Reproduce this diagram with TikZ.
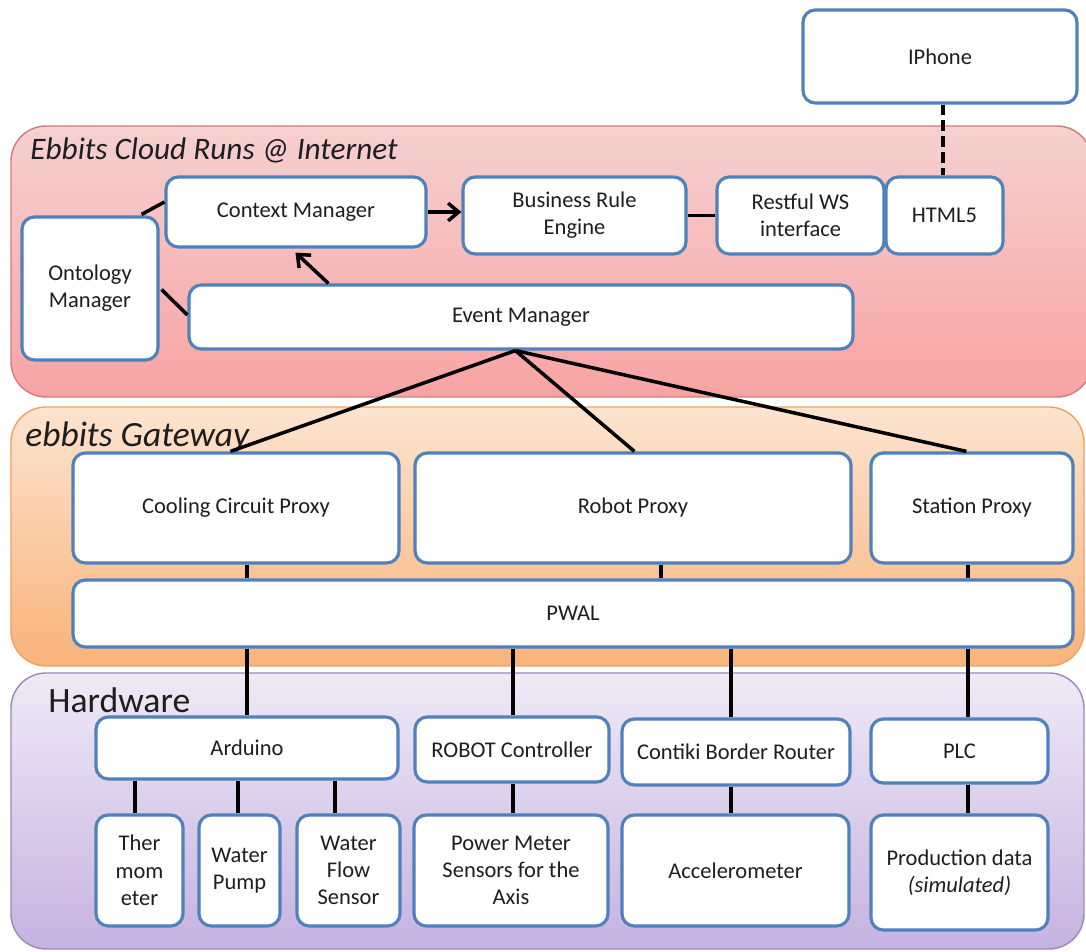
\documentclass[tikz,border=0pt]{standalone}
\usepackage{fontspec}
\setmainfont{Carlito}
\usetikzlibrary{arrows.meta,calc}
\definecolor{bxborder}{HTML}{4F81BD}
\definecolor{txt}{HTML}{1E1E1E}
\definecolor{cloudtop}{HTML}{F6D0D0}
\definecolor{cloudbot}{HTML}{F8A3A3}
\definecolor{cloudline}{HTML}{D27C7A}
\definecolor{gwtop}{HTML}{FCE4D0}
\definecolor{gwbot}{HTML}{F9B37A}
\definecolor{gwline}{HTML}{F0A060}
\definecolor{hwtop}{HTML}{EFEAF6}
\definecolor{hwbot}{HTML}{C6B2E0}
\definecolor{hwline}{HTML}{9A88B6}
\tikzset{
  box/.style={draw=bxborder, line width=1.8pt, fill=white, rounded corners=7pt,
    inner sep=0pt, align=center, text=txt, font=\fontsize{12.8}{15.5}\selectfont},
  conn/.style={line width=2pt, black},
  arr/.style={conn, -{Straight Barb[length=6pt,width=10pt,line width=2pt]}},
  region/.style={line width=0.8pt, rounded corners=20pt},
  rlabel/.style={anchor=west, inner sep=0pt, text=txt}
}
\newcommand{\bx}[6]{\node[box, minimum width={(#4-#2)*0.02cm}, minimum height={(#5-#3)*0.02cm}] (#1) at ({(#2+#4)/2},{(#3+#5)/2}) {#6};}
\begin{document}
\begin{tikzpicture}[x=0.02cm,y=-0.02cm]
\useasboundingbox (0,0) rectangle (1086,952);
% regions
\shade[region, draw=cloudline, top color=cloudtop, bottom color=cloudbot] (11,126) rectangle (1092,397);
\shade[region, draw=gwline, top color=gwtop, bottom color=gwbot] (11,407) rectangle (1084,666);
\shade[region, draw=hwline, top color=hwtop, bottom color=hwbot] (11,673) rectangle (1084,949);
\node[rlabel, font=\fontsize{17.8}{20}\selectfont\itshape] (lcloud) at (30,150) {Ebbits Cloud Runs @ Internet};
\node[rlabel, font=\fontsize{20.2}{24}\selectfont\itshape] (lgw) at (25,437) {ebbits Gateway};
\node[rlabel, font=\fontsize{20.3}{24}\selectfont] (lhw) at (48,700) {Hardware};
% nodes
\bx{iphone}{803}{10}{1077}{103}{IPhone}
\bx{html}{886}{177}{1003}{254}{HTML5}
\bx{rest}{717}{177}{884}{254}{Restful WS\\interface}
\bx{bre}{463}{177}{686}{254}{Business Rule\\Engine}
\bx{ctx}{166}{177}{426}{247}{Context Manager}
\bx{onto}{22}{217}{158}{360}{Ontology\\Manager}
\bx{evt}{189}{285}{853}{349}{Event Manager}
\bx{cool}{73}{453}{399}{563}{Cooling Circuit Proxy}
\bx{robot}{415}{453}{851}{563}{Robot Proxy}
\bx{station}{871}{453}{1073}{563}{Station Proxy}
\bx{pwal}{73}{580}{1073}{647}{PWAL}
\bx{ard}{96}{717}{398}{779}{Arduino}
\bx{rc}{415}{717}{609}{782}{ROBOT Controller}
\bx{cbr}{622}{719}{850}{785}{Contiki Border Router}
\bx{plc}{871}{719}{1048}{783}{PLC}
\bx{th}{96}{815}{183}{926}{Ther\\mom\\eter}
\bx{wp}{199}{815}{280}{926}{Water\\Pump}
\bx{wfs}{297}{815}{400}{926}{Water\\Flow\\Sensor}
\bx{pm}{414}{815}{608}{926}{Power Meter\\Sensors for the\\Axis}
\bx{acc}{622}{815}{849}{926}{Accelerometer}
\bx{prod}{871}{815}{1048}{930}{Production data\\\textit{(simulated)}}
% x positions for vertical stubs
\coordinate (xa) at (247,0);
\coordinate (xb) at (661,0);
\coordinate (xc) at (968,0);
\coordinate (xd) at (513,0);
\coordinate (xe) at (731,0);
\coordinate (xf) at (135,0);
\coordinate (xg) at (238,0);
\coordinate (xh) at (335,0);
\coordinate (xi) at (943,0);
% connectors
\draw[conn, dash pattern=on 6pt off 3pt] (iphone.south -| xi) -- (html.north -| xi);
\draw[arr] (ctx.east) -- (ctx.east -| bre.west);
\draw[conn] (bre.east) -- (rest.west);
\draw[arr] ($(evt.north west)+(141,0)$) -- ($(ctx.south west)+(131,4)$);
\draw[conn] ($(onto.north east)+(-18,-1)$) -- ($(ctx.west)+(0,-10)$);
\draw[conn] ($(onto.east)+(2,1)$) -- ($(evt.west)+(0,-2)$);
\draw[conn] ($(evt.south west)+(328,0)$) -- ($(cool.north west)+(159,0)$);
\draw[conn] ($(evt.south west)+(328,0)$) -- ($(robot.north west)+(221,0)$);
\draw[conn] ($(evt.south west)+(328,0)$) -- ($(station.north west)+(97,0)$);
\draw[conn] (cool.south -| xa) -- (pwal.north -| xa);
\draw[conn] (robot.south -| xb) -- (pwal.north -| xb);
\draw[conn] (station.south -| xc) -- (pwal.north -| xc);
\draw[conn] (pwal.south -| xa) -- (ard.north -| xa);
\draw[conn] (pwal.south -| xd) -- (rc.north -| xd);
\draw[conn] (pwal.south -| xe) -- (cbr.north -| xe);
\draw[conn] (pwal.south -| xc) -- (plc.north -| xc);
\draw[conn] (ard.south -| xf) -- (th.north -| xf);
\draw[conn] (ard.south -| xg) -- (wp.north -| xg);
\draw[conn] (ard.south -| xh) -- (wfs.north -| xh);
\draw[conn] (rc.south -| xd) -- (pm.north -| xd);
\draw[conn] (cbr.south -| xe) -- (acc.north -| xe);
\draw[conn] (plc.south -| xc) -- (prod.north -| xc);
\end{tikzpicture}
\end{document}
